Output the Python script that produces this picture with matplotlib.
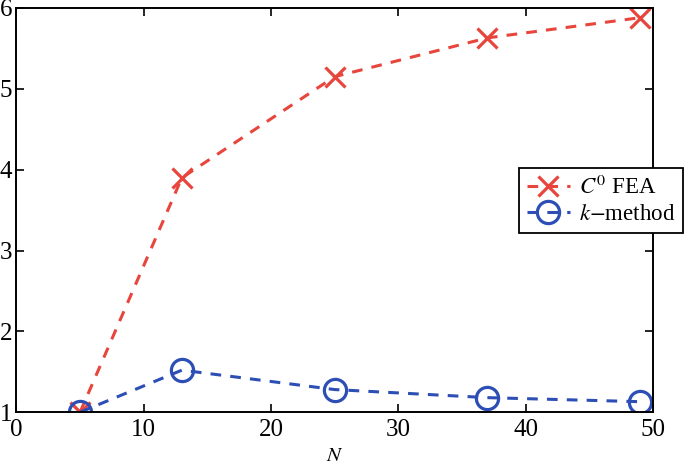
import matplotlib
matplotlib.use("Agg")
import matplotlib.pyplot as plt

# values
n_vals = [5, 13, 25, 37, 49]
fea_vals = [1.0, 3.9, 5.15, 5.63, 5.88]
kmethod_vals = [1.0, 1.52, 1.28, 1.18, 1.13]

x_ticks = [0, 10, 20, 30, 40, 50]
y_ticks = [1, 2, 3, 4, 5, 6]

plt.rcParams['font.family'] = ['Liberation Serif', 'DejaVu Serif']
plt.rcParams['mathtext.fontset'] = 'stix'

fig = plt.figure(figsize=(6.85, 4.70), dpi=100)
ax = fig.add_axes([0.024, 0.123, 0.929, 0.860])

red = '#E8453C'
blue = '#2D4FB5'

ax.plot(n_vals, fea_vals, linestyle='--', color=red, linewidth=2.2,
        marker='x', markersize=15, markeredgewidth=2.3, label=r'$C^0$ FEA',
        dashes=(3.5, 3))
ax.plot(n_vals, kmethod_vals, linestyle='--', color=blue, linewidth=2.2,
        marker='o', markersize=16, markerfacecolor='none', markeredgewidth=2.3,
        label=r'$k$$-$method', dashes=(3.5, 3))

ax.set_xlim(0, 50)
ax.set_ylim(1, 6)
ax.set_xticks(x_ticks)
ax.set_yticks(y_ticks)
ax.tick_params(direction='in', length=6, width=1.2, labelsize=18,
               top=True, right=True)
ax.tick_params(axis='x', pad=5)
ax.tick_params(axis='y', pad=3)
for sp in ax.spines.values():
    sp.set_linewidth(1.4)

ax.set_xlabel('$N$', fontsize=15, labelpad=4)

leg = ax.legend(loc='upper left', bbox_to_anchor=(0.757, 0.643),
                bbox_transform=fig.transFigure, borderaxespad=0,
                fancybox=False, frameon=True, edgecolor='black',
                fontsize=16.5, handlelength=1.9, handletextpad=0.4,
                borderpad=0.35, labelspacing=0.2, markerscale=1.0)
leg.get_frame().set_linewidth(1.3)
leg.get_frame().set_alpha(1)

fig.savefig('out.png', dpi=100)
